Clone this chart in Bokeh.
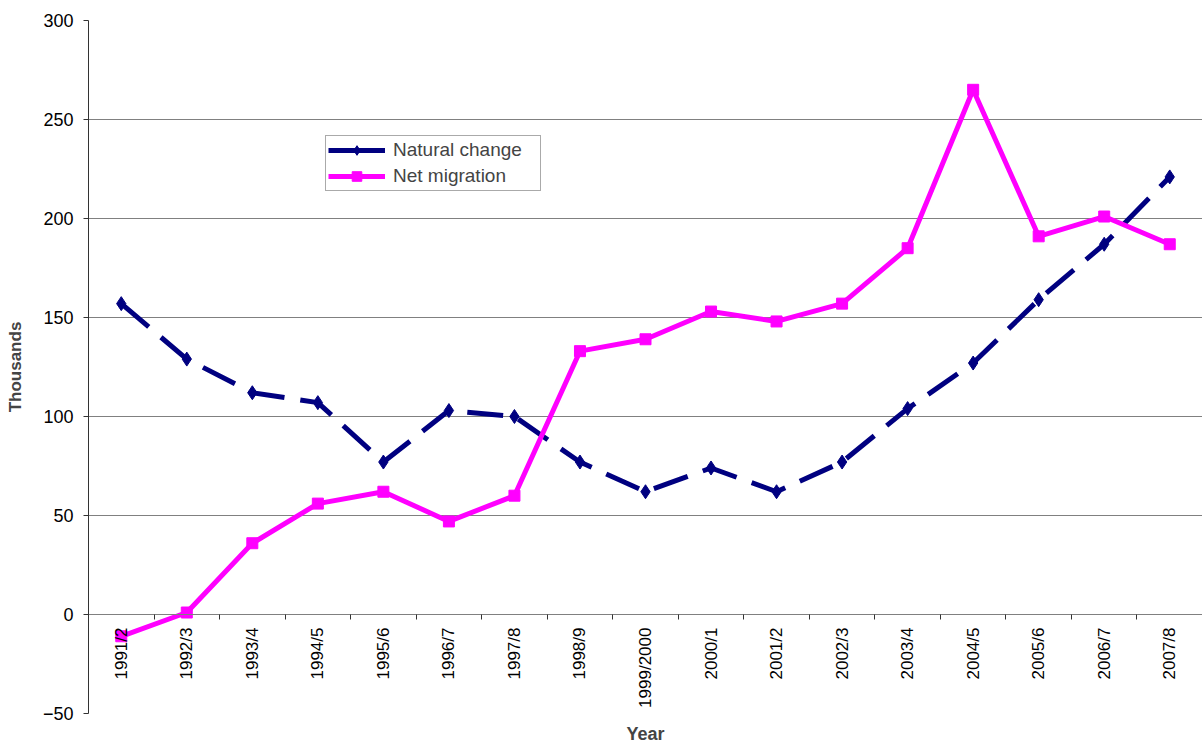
from bokeh.plotting import figure
from bokeh.models import Range1d, FixedTicker, Legend, LegendItem, Title
from bokeh.embed import file_html
from bokeh.resources import INLINE
import math

years = ["1991/2", "1992/3", "1993/4", "1994/5", "1995/6", "1996/7", "1997/8",
         "1998/9", "1999/2000", "2000/1", "2001/2", "2002/3", "2003/4",
         "2004/5", "2005/6", "2006/7", "2007/8"]
natural_change = [157, 129, 112, 107, 77, 103, 100, 77, 62, 74, 62, 77, 104, 127, 159, 187, 221]
net_migration = [-11, 1, 36, 56, 62, 47, 60, 133, 139, 153, 148, 157, 185, 265, 191, 201, 187]
y_ticks = [-50, 0, 50, 100, 150, 200, 250, 300]

FONT = "Liberation Sans"
xs = [i + 0.5 for i in range(len(years))]
boundaries = [i for i in range(1, len(years))]

p = figure(width=1202, height=751, output_backend="svg", toolbar_location=None,
           x_range=Range1d(0, len(years)), y_range=Range1d(-50, 300),
           min_border_left=88, min_border_right=0, min_border_top=20, min_border_bottom=37)
p.outline_line_color = None
p.background_fill_color = "white"

# y axis
p.yaxis.ticker = FixedTicker(ticks=y_ticks)
p.yaxis.axis_label = "Thousands"
p.yaxis.axis_label_text_font = FONT
p.yaxis.axis_label_text_font_style = "bold"
p.yaxis.axis_label_text_font_size = "17px"
p.yaxis.axis_label_standoff = 15
p.yaxis.major_label_text_font = FONT
p.yaxis.major_label_text_font_size = "18px"
p.yaxis.major_label_text_color = "black"
p.yaxis.major_tick_out = 5
p.yaxis.major_tick_in = 0
p.yaxis.minor_tick_line_color = None
p.yaxis.major_label_standoff = 10
p.yaxis.axis_line_color = "#333333"
p.yaxis.major_tick_line_color = "#333333"

# x axis at y=0
p.xaxis.fixed_location = 0
p.xaxis.ticker = FixedTicker(ticks=xs, minor_ticks=boundaries)
p.xaxis.major_label_overrides = {x: y for x, y in zip(xs, years)}
p.xaxis.major_label_orientation = math.pi / 2
p.xaxis.major_label_text_font = FONT
p.xaxis.major_label_text_font_size = "17px"
p.xaxis.major_label_text_color = "black"
p.xaxis.major_label_standoff = 8
p.xaxis.major_tick_out = 0
p.xaxis.major_tick_in = 0
p.xaxis.minor_tick_out = 5
p.xaxis.minor_tick_in = 0
p.xaxis.minor_tick_line_color = "#333333"
p.xaxis.axis_line_color = "#808080"

p.xgrid.grid_line_color = None
p.ygrid.ticker = FixedTicker(ticks=y_ticks)
p.ygrid.grid_line_color = "#808080"
p.ygrid.grid_line_width = 1

p.add_layout(Title(text="Year", align="center", text_font=FONT, text_font_style="bold",
                   text_font_size="18px", standoff=16), "below")

NAVY = "#000080"
MAG = "#FF00FF"
l1 = p.line(xs, natural_change, line_color=NAVY, line_width=5, line_dash="36 16")
m1 = p.scatter(xs, natural_change, marker="diamond", size=14, fill_color=NAVY, line_color=NAVY)
l2 = p.line(xs, net_migration, line_color=MAG, line_width=5)
m2 = p.scatter(xs, net_migration, marker="square", size=11, fill_color=MAG, line_color=MAG)
# solid line (single point, draws nothing in the plot) used only for the legend swatch
l1_leg = p.line(xs[:1], natural_change[:1], line_color=NAVY, line_width=5)

legend = Legend(items=[LegendItem(label="Natural change", renderers=[l1_leg, m1]),
                       LegendItem(label="Net migration", renderers=[l2, m2])],
                location=(237, 522), label_text_font=FONT, label_text_font_size="19px",
                glyph_width=57, glyph_height=24, label_height=24, label_width=145,
                label_standoff=8, spacing=2, padding=2, margin=0,
                border_line_color="#555555", border_line_width=1)
p.add_layout(legend, "center")

open("out.html", "w").write(file_html(p, INLINE))
